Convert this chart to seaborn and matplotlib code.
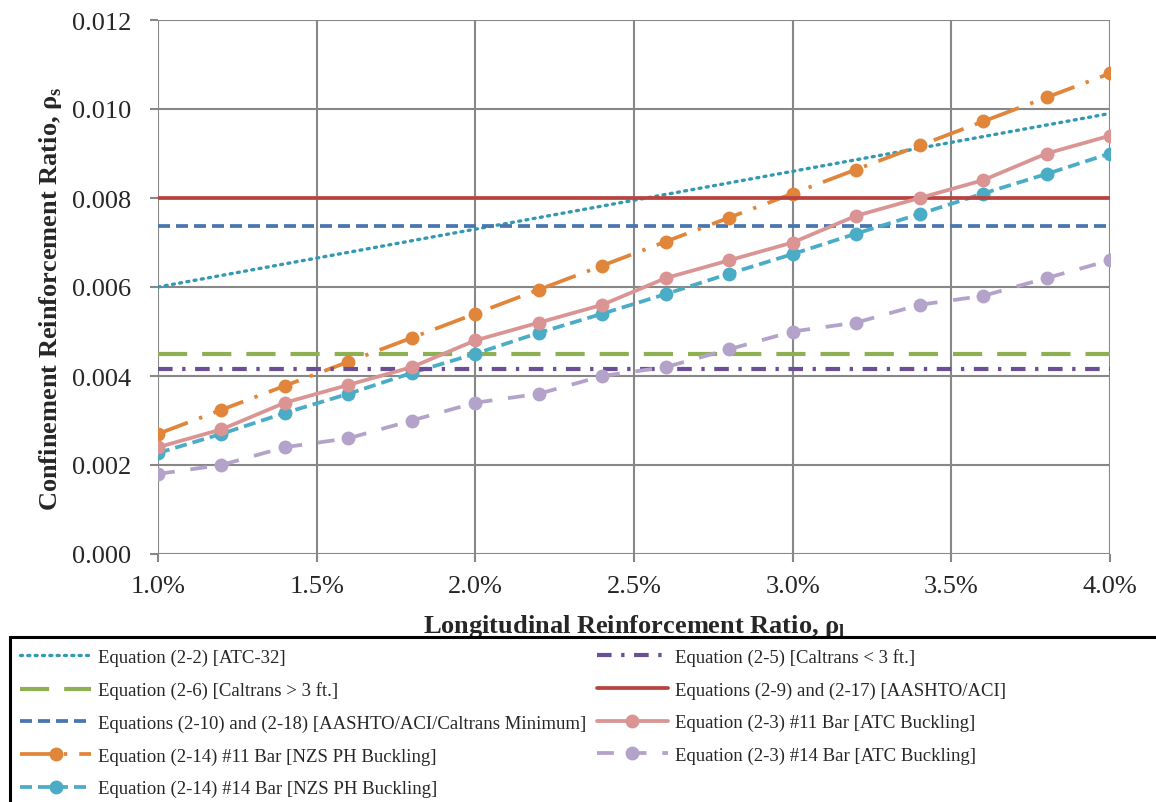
import numpy as np
import pandas as pd
import matplotlib
matplotlib.use("Agg")
import matplotlib.pyplot as plt
from matplotlib.patches import Rectangle
from matplotlib.ticker import FuncFormatter, MultipleLocator
import seaborn as sns

# Longitudinal reinforcement ratio (%)
rho_l = [1.0, 1.2, 1.4, 1.6, 1.8, 2.0, 2.2, 2.4, 2.6, 2.8, 3.0, 3.2, 3.4, 3.6, 3.8, 4.0]

# Linear code equation (ATC-32) evaluated at the ends of the range
atc32_x = [1.0, 4.0]
atc32_y = [0.0060, 0.0099]

# Constant code minimums
caltrans_small = 0.00415    # Eq. (2-5), Caltrans < 3 ft
caltrans_large = 0.0045     # Eq. (2-6), Caltrans > 3 ft
aashto_aci = 0.0080         # Eqs. (2-9) and (2-17)
aashto_min = 0.00737        # Eqs. (2-10) and (2-18)

# Buckling-based requirements
nzs_11 = [0.0027, 0.00324, 0.00378, 0.00432, 0.00486, 0.0054, 0.00594, 0.00648,
          0.00702, 0.00756, 0.0081, 0.00864, 0.00918, 0.00972, 0.01026, 0.0108]
nzs_14 = [0.00227, 0.0027, 0.00317, 0.0036, 0.00407, 0.0045, 0.00497, 0.0054,
          0.00584, 0.0063, 0.00674, 0.0072, 0.00764, 0.0081, 0.00854, 0.0090]
atc_11 = [0.0024, 0.0028, 0.0034, 0.0038, 0.0042, 0.0048, 0.0052, 0.0056,
          0.0062, 0.0066, 0.0070, 0.0076, 0.0080, 0.0084, 0.0090, 0.0094]
atc_14 = [0.0018, 0.0020, 0.0024, 0.0026, 0.0030, 0.0034, 0.0036, 0.0040,
          0.0042, 0.0046, 0.0050, 0.0052, 0.0056, 0.0058, 0.0062, 0.0066]

labels = {
    "atc32": "Equation (2-2) [ATC-32]",
    "cal_large": "Equation (2-6) [Caltrans > 3 ft.]",
    "aashto_min": "Equations (2-10) and (2-18) [AASHTO/ACI/Caltrans Minimum]",
    "nzs11": "Equation (2-14) #11 Bar [NZS PH Buckling]",
    "nzs14": "Equation (2-14) #14 Bar [NZS PH Buckling]",
    "cal_small": "Equation (2-5) [Caltrans < 3 ft.]",
    "aashto": "Equations (2-9) and (2-17) [AASHTO/ACI]",
    "atc11": "Equation (2-3) #11 Bar [ATC Buckling]",
    "atc14": "Equation (2-3) #14 Bar [ATC Buckling]",
}

sns.set_theme(style="white")
plt.rcParams["font.family"] = ["Liberation Serif", "DejaVu Serif"]
plt.rcParams["mathtext.fontset"] = "custom"
plt.rcParams["mathtext.rm"] = "Liberation Serif"
plt.rcParams["mathtext.bf"] = "Liberation Serif:bold"

fig = plt.figure(figsize=(11.56, 8.03), dpi=100)
W, H = 1156, 803
ax = fig.add_axes([158 / W, 1 - 555 / H, (1110 - 158) / W, (555 - 21) / H])

ends = [rho_l[0], rho_l[-1]]
LW = 2.7

def draw(x, y, key, color, dashes=None, marker=None, lw=LW, cap="butt"):
    ls = "-" if dashes is None else (0, dashes)
    sns.lineplot(x=x, y=y, ax=ax, color=color, linestyle=ls, lw=lw,
                 marker=marker, markersize=10, markeredgewidth=0,
                 dash_capstyle=cap, label=labels[key], zorder=3)

draw(atc32_x, atc32_y, "atc32", "#3399b3", dashes=(0.6, 1.6), lw=2.4, cap="round")
draw(ends, [caltrans_large] * 2, "cal_large", "#8db053", dashes=(7, 3.6), lw=3.0)
draw(ends, [aashto_min] * 2, "aashto_min", "#4a76b0", dashes=(3.2, 1.6))
draw(rho_l, nzs_11, "nzs11", "#e0853a", dashes=(8.5, 3.2, 0.9, 3.2), marker="o")
draw(rho_l, nzs_14, "nzs14", "#4bacc6", dashes=(3.2, 1.6), marker="o")
draw(ends, [caltrans_small] * 2, "cal_small", "#6a4f94", dashes=(3.5, 2.3, 0.8, 2.3), lw=3.0)
draw(ends, [aashto_aci] * 2, "aashto", "#b8443f")
draw(rho_l, atc_11, "atc11", "#d99493", marker="o")
draw(rho_l, atc_14, "atc14", "#b3a2c9", dashes=(4.5, 4.2), marker="o")

ax.set_xlim(1.0, 4.0)
ax.set_ylim(0.0, 0.012)
ax.xaxis.set_major_locator(MultipleLocator(0.5))
ax.yaxis.set_major_locator(MultipleLocator(0.002))
ax.xaxis.set_major_formatter(FuncFormatter(lambda v, p: f"{v:.1f}%"))
ax.yaxis.set_major_formatter(FuncFormatter(lambda v, p: f"{v:.3f}"))
ax.grid(True, color="#878787", lw=1.5, zorder=0)
for s in ax.spines.values():
    s.set_visible(False)
ax.tick_params(axis="both", which="major", direction="out", length=6, width=1.5,
               color="#878787", labelsize=19, left=True, bottom=True)
ax.tick_params(axis="x", pad=9)
ax.tick_params(axis="y", pad=13)
ax.set_axisbelow(True)

ax.set_xlabel(r"Longitudinal Reinforcement Ratio, ρ$_\mathbf{l}$", fontsize=19,
              fontweight="bold")
ax.set_ylabel(r"Confinement Reinforcement Ratio, ρ$_\mathbf{s}$", fontsize=19,
              fontweight="bold")
ax.xaxis.set_label_coords(0.5, -(613 - 555) / 534)
ax.yaxis.set_label_coords(-(158 - 64) / 952, 0.48)

handles, labs = ax.get_legend_handles_labels()
ax.legend().remove()
fig.legend(handles, labs, ncol=2, loc="upper left",
           bbox_to_anchor=(20 / W, 1 - 649 / H), frameon=False,
           prop={"family": "Liberation Serif", "size": 13.5},
           handlelength=3.8, handletextpad=0.37, columnspacing=0.55,
           labelspacing=0.82, borderaxespad=0, borderpad=0)

# border around the key, running off the right and bottom edges
fig.patches.append(Rectangle((10 / W, -0.05), 1.2, 1 - 638 / H + 0.05,
                             transform=fig.transFigure, fill=False,
                             edgecolor="black", lw=2.2, zorder=5))

fig.savefig("out.png", dpi=100, facecolor="white")
